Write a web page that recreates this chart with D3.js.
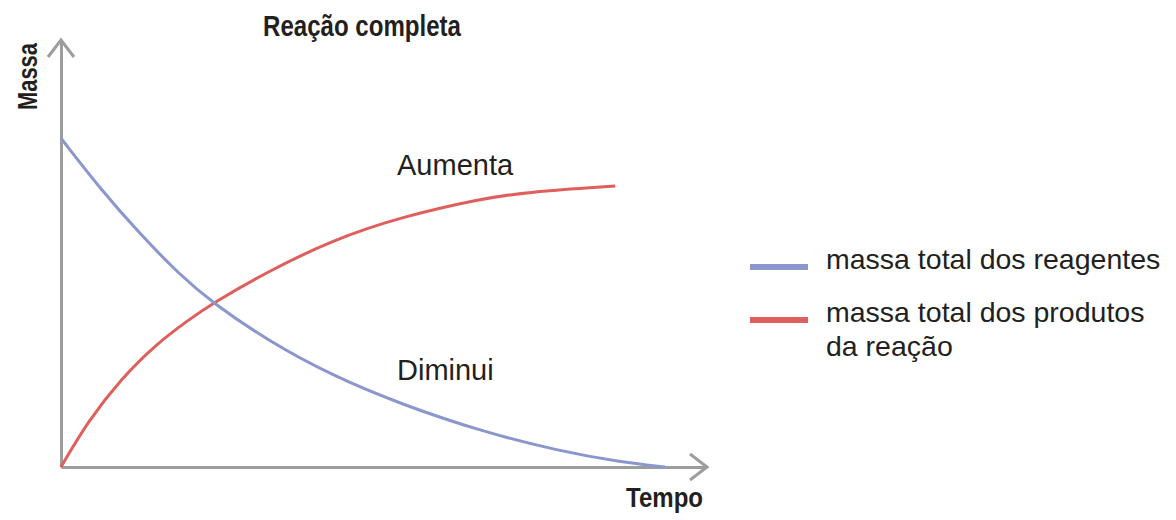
<!DOCTYPE html>
<html>
<head>
<meta charset="utf-8">
<script src="https://cdn.jsdelivr.net/npm/d3@7"></script>
<style>
  body { margin: 0; background: #fff; }
  text { fill: #231f20; }
</style>
</head>
<body>
<div id="vis-holder"></div>
<script>
// Data (time and mass in arbitrary units 0-10)
const tempoReagentes = [0, 0.60, 1.22, 1.84, 2.35, 3.19, 4.21, 5.25, 6.49, 7.72, 8.65, 9.35];
const massaReagentes = [7.70, 6.53, 5.46, 4.50, 3.84, 2.97, 2.13, 1.48, 0.84, 0.37, 0.12, 0];

const tempoProdutos = [0, 0.42, 0.94, 1.46, 1.97, 2.35, 3.19, 4.21, 5.25, 6.49, 7.21, 8.58];
const massaProdutos = [0, 1.08, 2.08, 2.86, 3.44, 3.84, 4.57, 5.32, 5.85, 6.28, 6.44, 6.58];

const seriesNames = ["massa total dos reagentes", "massa total dos produtos\nda reação"];
const curveLabels = ["Diminui", "Aumenta"];

const width = 1176;
const height = 520;
const margin = { top: 40, right: 469, bottom: 53, left: 61 };

const svg = d3.select("#vis-holder")
    .append("svg")
    .attr("width", width)
    .attr("height", height);

// Scales
const x = d3.scaleLinear()
    .domain([0, 10])
    .range([margin.left, width - margin.right]);

const y = d3.scaleLinear()
    .domain([0, 10])
    .range([height - margin.bottom, margin.top]);

const axisColor = "#9d9d9d";
const color = d3.scaleOrdinal()
    .domain(seriesNames)
    .range(["#8a96cd", "#df5f5c"]);

// Axes, no ticks, just the lines
svg.append("g")
    .attr("transform", `translate(0,${y(0)})`)
    .call(d3.axisBottom(x).ticks(0).tickSizeOuter(0))
    .call(g => g.select(".domain").attr("stroke", axisColor).attr("stroke-width", 3));

svg.append("g")
    .attr("transform", `translate(${x(0)},0)`)
    .call(d3.axisLeft(y).ticks(0).tickSizeOuter(0))
    .call(g => g.select(".domain").attr("stroke", axisColor).attr("stroke-width", 3));

// Arrow heads
const xEnd = x.range()[1], yEnd = y.range()[1];
svg.append("path")
    .attr("d", `M${xEnd - 17},${y(0) - 13}L${xEnd},${y(0)}L${xEnd - 17},${y(0) + 13}`)
    .attr("fill", "none").attr("stroke", axisColor).attr("stroke-width", 3);
svg.append("path")
    .attr("d", `M${x(0) - 13},${yEnd + 17}L${x(0)},${yEnd}L${x(0) + 13},${yEnd + 17}`)
    .attr("fill", "none").attr("stroke", axisColor).attr("stroke-width", 3);

// Curves
const line = d3.line()
    .x(d => x(d[0]))
    .y(d => y(d[1]))
    .curve(d3.curveBasis);

const reagentes = tempoReagentes.map((t, i) => [t, massaReagentes[i]]);
const produtos = tempoProdutos.map((t, i) => [t, massaProdutos[i]]);

svg.append("path")
    .datum(produtos)
    .attr("d", line)
    .attr("fill", "none")
    .attr("stroke", color(seriesNames[1]))
    .attr("stroke-width", 3);

svg.append("path")
    .datum(reagentes)
    .attr("d", line)
    .attr("fill", "none")
    .attr("stroke", color(seriesNames[0]))
    .attr("stroke-width", 3);

// Title and axis labels (condensed bold, squeezed to fit)
const boldFont = "'Liberation Sans', Arial, sans-serif";
const plainFont = "'Liberation Sans', Arial, sans-serif";

svg.append("text")
    .attr("x", 263).attr("y", 36)
    .attr("font-family", boldFont).attr("font-weight", "bold")
    .attr("font-size", 29)
    .attr("textLength", 198).attr("lengthAdjust", "spacingAndGlyphs")
    .text("Reação completa");

svg.append("text")
    .attr("transform", "translate(37,110) rotate(-90)")
    .attr("font-family", boldFont).attr("font-weight", "bold")
    .attr("font-size", 28)
    .attr("textLength", 67).attr("lengthAdjust", "spacingAndGlyphs")
    .text("Massa");

svg.append("text")
    .attr("x", 626).attr("y", 507)
    .attr("font-family", boldFont).attr("font-weight", "bold")
    .attr("font-size", 28)
    .attr("textLength", 77).attr("lengthAdjust", "spacingAndGlyphs")
    .text("Tempo");

// Curve labels
svg.append("text")
    .attr("x", 397).attr("y", 175)
    .attr("font-family", plainFont).attr("font-size", 29)
    .text(curveLabels[1]);

svg.append("text")
    .attr("x", 397).attr("y", 380)
    .attr("font-family", plainFont).attr("font-size", 29)
    .text(curveLabels[0]);

// Legend
const legendY = [267, 320];
const legend = svg.append("g");

seriesNames.forEach((name, i) => {
    legend.append("line")
        .attr("x1", 750).attr("x2", 808)
        .attr("y1", legendY[i]).attr("y2", legendY[i])
        .attr("stroke", color(name))
        .attr("stroke-width", 6);

    const t = legend.append("text")
        .attr("x", 826).attr("y", legendY[i] + 2)
        .attr("font-family", plainFont).attr("font-size", 28.5);
    name.split("\n").forEach((part, j) => {
        t.append("tspan")
            .attr("x", 826)
            .attr("dy", j === 0 ? 0 : 34)
            .text(part);
    });
});
</script>
</body>
</html>
